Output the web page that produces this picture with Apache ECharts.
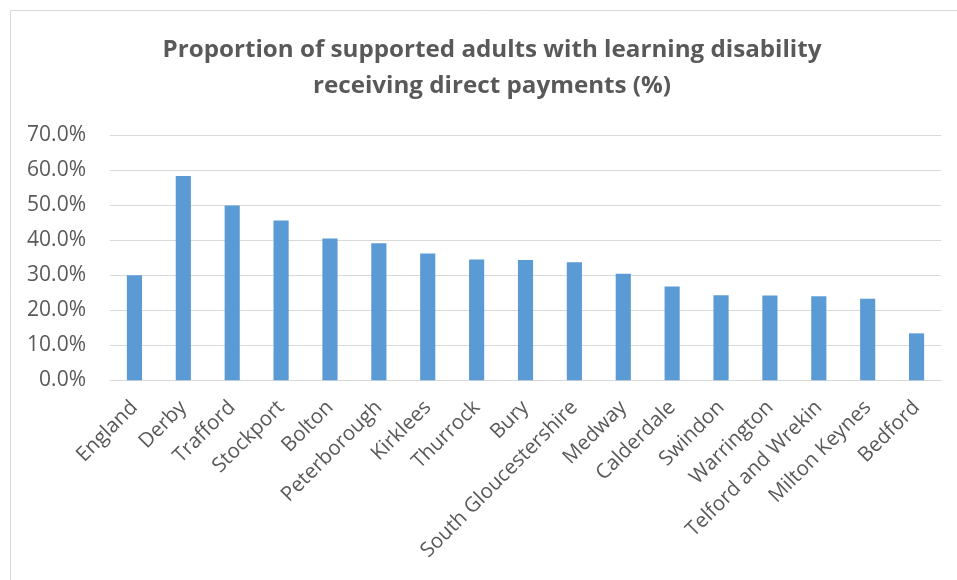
<!DOCTYPE html>
<html>
<head>
<meta charset="utf-8">
<script src="https://cdn.jsdelivr.net/npm/echarts@6/dist/echarts.min.js"></script>
<style>
  html, body { margin: 0; padding: 0; background: #ffffff; }
  #chart { width: 957px; height: 580px; }
</style>
</head>
<body>
<div id="chart"></div>
<script>
// Local authorities and the share of supported adults with a learning disability on direct payments
const categories = [
  'England', 'Derby', 'Trafford', 'Stockport', 'Bolton', 'Peterborough',
  'Kirklees', 'Thurrock', 'Bury', 'South Gloucestershire', 'Medway',
  'Calderdale', 'Swindon', 'Warrington', 'Telford and Wrekin',
  'Milton Keynes', 'Bedford'
];
const directPaymentShare = [
  30.0, 58.3, 49.9, 45.6, 40.5, 39.1, 36.2, 34.5, 34.3,
  33.7, 30.4, 26.8, 24.3, 24.2, 24.0, 23.3, 13.4
];
const titleLines = [
  'Proportion of supported adults with learning disability',
  'receiving direct payments (%)'
];

const chart = echarts.init(document.getElementById('chart'), null, { renderer: 'canvas' });

const textColor = '#595959';
const gridColor = '#d9d9d9';
const titleFont = 'bold 24px "Open Sans"';

// Condense the bold title horizontally so its first line is 659px wide
const measureCtx = document.createElement('canvas').getContext('2d');
measureCtx.font = titleFont;
const titleScaleX = 659 / measureCtx.measureText(titleLines[0]).width;

const titleGraphics = titleLines.map((line, i) => ({
  type: 'text',
  silent: true,
  x: 492,
  y: 50.5 + i * 36,
  scaleX: titleScaleX,
  style: {
    x: 0,
    y: 0,
    text: line,
    textAlign: 'center',
    textVerticalAlign: 'middle',
    fill: textColor,
    font: titleFont
  }
}));

chart.setOption({
  backgroundColor: '#ffffff',
  animation: false,
  graphic: [
    {
      type: 'rect',
      silent: true,
      shape: { x: 10.5, y: 10.5, width: 1000, height: 1000 },
      style: { fill: 'none', stroke: gridColor, lineWidth: 1 }
    },
    ...titleGraphics
  ],
  grid: { left: 110, right: 16, top: 135, bottom: 199.7, containLabel: false },
  xAxis: {
    type: 'category',
    data: categories,
    axisLine: { show: true, lineStyle: { color: gridColor, width: 1 } },
    axisTick: { show: false },
    axisLabel: {
      interval: 0,
      rotate: 45,
      margin: 24,
      color: textColor,
      fontFamily: 'Open Sans',
      fontSize: 20.5
    }
  },
  yAxis: {
    type: 'value',
    min: 0,
    max: 70,
    interval: 10,
    axisLine: { show: false },
    axisTick: { show: false },
    splitLine: { lineStyle: { color: gridColor, width: 1 } },
    axisLabel: {
      margin: 24,
      color: textColor,
      fontFamily: 'Open Sans',
      fontSize: 21,
      formatter: v => v.toFixed(1) + '%'
    }
  },
  series: [
    {
      type: 'bar',
      data: directPaymentShare,
      barWidth: '31%',
      itemStyle: { color: '#5b9bd5' }
    }
  ]
});
</script>
</body>
</html>
